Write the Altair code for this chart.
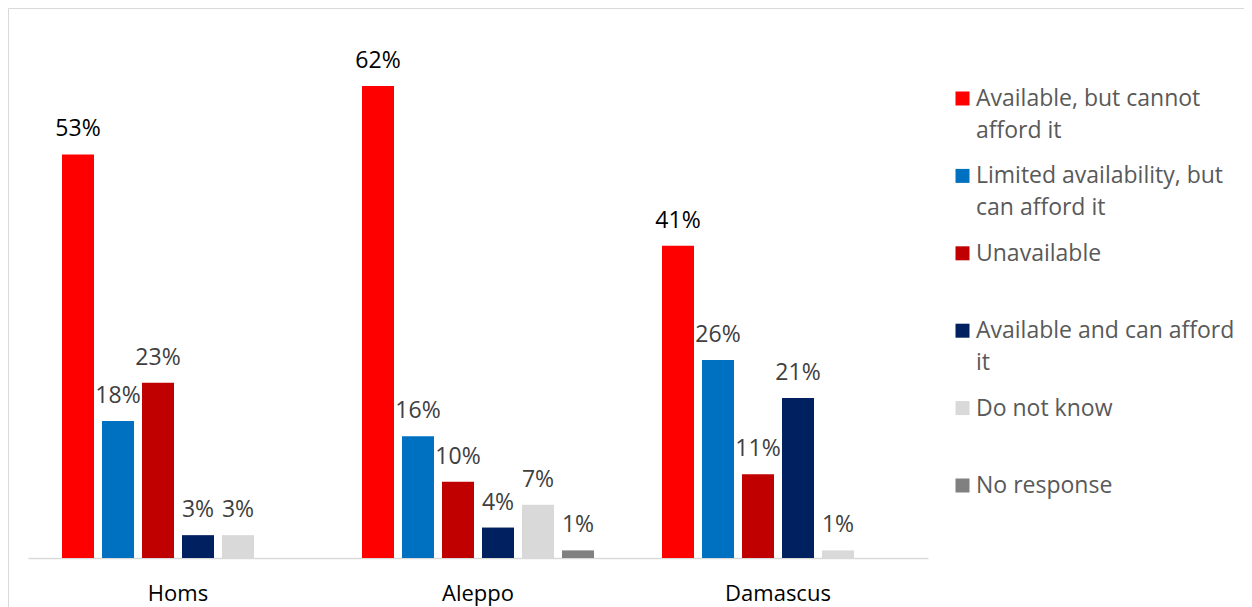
import altair as alt
import pandas as pd

cities = ["Homs", "Aleppo", "Damascus"]
categories = [
    "Available, but cannot afford it",
    "Limited availability, but can afford it",
    "Unavailable",
    "Available and can afford it",
    "Do not know",
    "No response",
]
legend_labels = [
    "Available, but cannot\nafford it",
    "Limited availability, but\ncan afford it",
    "Unavailable",
    "Available and can afford\nit",
    "Do not know",
    "No response",
]
colors = ["#FF0000", "#0070C0", "#C00000", "#002060", "#D9D9D9", "#808080"]

homs = [53, 18, 23, 3, 3, None]
aleppo = [62, 16, 10, 4, 7, 1]
damascus = [41, 26, 11, 21, 1, None]

rows = []
for city, vals in zip(cities, [homs, aleppo, damascus]):
    for cat, v in zip(categories, vals):
        if v is not None:
            rows.append({"city": city, "category": cat, "value": v, "label": f"{v}%"})
df = pd.DataFrame(rows)
legend_df = pd.DataFrame({"category": categories, "label": legend_labels})

FONT = "Open Sans"
color_scale = alt.Scale(domain=categories, range=colors)

x_enc = alt.X(
    "city:N",
    sort=cities,
    scale=alt.Scale(paddingInner=0.2, paddingOuter=0.1),
    axis=alt.Axis(
        title=None,
        ticks=False,
        domainColor="#D9D9D9",
        domainWidth=1.5,
        labelFontSize=22,
        labelFont=FONT,
        labelColor="#000000",
        labelAngle=0,
        labelPadding=25,
    ),
)
xoff_enc = alt.XOffset(
    "category:N", sort=categories, scale=alt.Scale(paddingInner=0.2, paddingOuter=0.1)
)
y_enc = alt.Y("value:Q", scale=alt.Scale(domain=[0, 70]), axis=None)

bars = alt.Chart(df).mark_bar().encode(
    x=x_enc,
    xOffset=xoff_enc,
    y=y_enc,
    color=alt.Color("category:N", scale=color_scale, legend=None),
)

labels = alt.Chart(df).mark_text(
    baseline="alphabetic", dy=-18, fontSize=23, font=FONT
).encode(
    x=x_enc,
    xOffset=xoff_enc,
    y=y_enc,
    text="label:N",
    color=alt.condition(
        f"datum.category == '{categories[0]}'", alt.value("#000000"), alt.value("#404040")
    ),
)

leg_y = alt.Y(
    "category:N",
    sort=categories,
    scale=alt.Scale(range=[73.5, 460.5], padding=0),
    axis=None,
)
leg_sym = alt.Chart(legend_df).mark_square(size=196, opacity=1).encode(
    x=alt.value(934.5),
    y=leg_y,
    color=alt.Color("category:N", scale=color_scale, legend=None),
)
leg_txt = alt.Chart(legend_df).mark_text(
    align="left",
    baseline="top",
    dy=-10.5,
    lineBreak="\n",
    lineHeight=32,
    fontSize=23,
    font=FONT,
    color="#595959",
).encode(x=alt.value(948), y=leg_y, text="label:N")

frame = alt.Data(values=[{"a": 1}])
border_top = alt.Chart(frame).mark_rule(color="#D9D9D9", strokeWidth=1).encode(
    x=alt.value(-19.5), x2=alt.value(1500), y=alt.value(-16.5)
)
border_left = alt.Chart(frame).mark_rule(color="#D9D9D9", strokeWidth=1).encode(
    x=alt.value(-19.5), y=alt.value(-16.5), y2=alt.value(900)
)

chart = (
    alt.layer(border_top, border_left, bars, labels, leg_sym, leg_txt)
    .resolve_scale(y="independent")
    .properties(
        width=900,
        height=533,
        autosize=alt.AutoSizeParams(type="none"),
        padding={"left": 20, "top": 17, "right": 316, "bottom": 49},
        background="#FFFFFF",
    )
    .configure_view(strokeWidth=0)
)

chart.save("out.html", embed_options={"renderer": "svg", "actions": False})
